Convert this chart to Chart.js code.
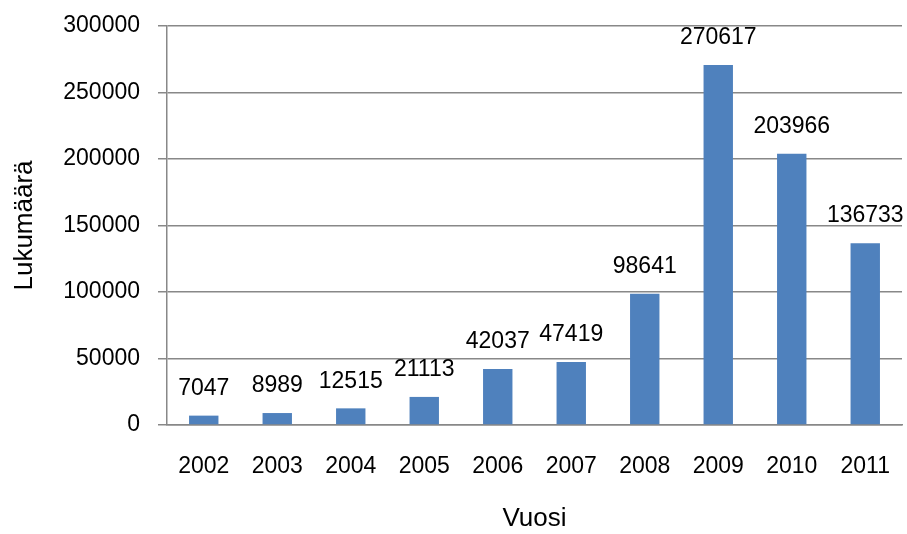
<!DOCTYPE html>
<html>
<head>
<meta charset="utf-8">
<script src="https://cdn.jsdelivr.net/npm/chart.js@4"></script>
<style>
    html, body { margin: 0; padding: 0; background: #fff; }
    #wrap { width: 907px; height: 534px; }
</style>
</head>
<body>
<div id="wrap"><canvas id="chart"></canvas></div>
<script>
const years = ['2002', '2003', '2004', '2005', '2006', '2007', '2008', '2009', '2010', '2011'];
const counts = [7047, 8989, 12515, 21113, 42037, 47419, 98641, 270617, 203966, 136733];
const yTicks = [0, 50000, 100000, 150000, 200000, 250000, 300000];

const fontFamily = '"Liberation Sans", Arial, sans-serif';

// draws the value above each bar
const valueLabels = {
    id: 'valueLabels',
    afterDatasetsDraw(chart) {
        const ctx = chart.ctx;
        const meta = chart.getDatasetMeta(0);
        ctx.save();
        ctx.font = '23px ' + fontFamily;
        ctx.fillStyle = '#000';
        ctx.textAlign = 'center';
        ctx.textBaseline = 'middle';
        meta.data.forEach((bar, i) => {
            ctx.fillText(String(counts[i]), bar.x, bar.y - 27);
        });
        ctx.restore();
    }
};

new Chart(document.getElementById('chart'), {
    type: 'bar',
    data: {
        labels: years,
        datasets: [{
            data: counts,
            backgroundColor: '#4F81BD',
            borderWidth: 0,
            barPercentage: 0.4,
            categoryPercentage: 1
        }]
    },
    options: {
        responsive: true,
        maintainAspectRatio: false,
        animation: false,
        layout: { padding: { top: 26, right: 5, left: 0, bottom: 0 } },
        plugins: {
            legend: { display: false },
            tooltip: { enabled: false }
        },
        scales: {
            x: {
                afterFit(axis) {
                    axis.height = 109;
                    axis.paddingLeft = 0;
                    axis.paddingRight = 0;
                },
                grid: { display: false, drawTicks: false },
                border: { display: true, color: '#888', width: 1.5 },
                ticks: {
                    color: '#000',
                    font: { family: fontFamily, size: 23 },
                    padding: 28,
                    maxRotation: 0
                },
                title: {
                    display: true,
                    text: 'Vuosi',
                    color: '#000',
                    font: { family: fontFamily, size: 26 },
                    padding: { top: 0, bottom: 0 }
                }
            },
            y: {
                min: 0,
                max: 300000,
                afterBuildTicks(axis) {
                    axis.ticks = yTicks.map(v => ({ value: v }));
                },
                afterFit(axis) {
                    axis.width = 167;
                    axis.paddingTop = 0;
                    axis.paddingBottom = 0;
                },
                grid: { color: '#888', lineWidth: 1.5, tickLength: 9 },
                border: { display: true, color: '#888', width: 1.5 },
                ticks: {
                    color: '#000',
                    font: { family: fontFamily, size: 23 },
                    padding: 18,
                    callback: v => String(v)
                },
                title: {
                    display: true,
                    text: 'Lukumäärä',
                    color: '#000',
                    font: { family: fontFamily, size: 26 },
                    padding: { top: 9, bottom: 9 }
                }
            }
        }
    },
    plugins: [valueLabels]
});
</script>
</body>
</html>
